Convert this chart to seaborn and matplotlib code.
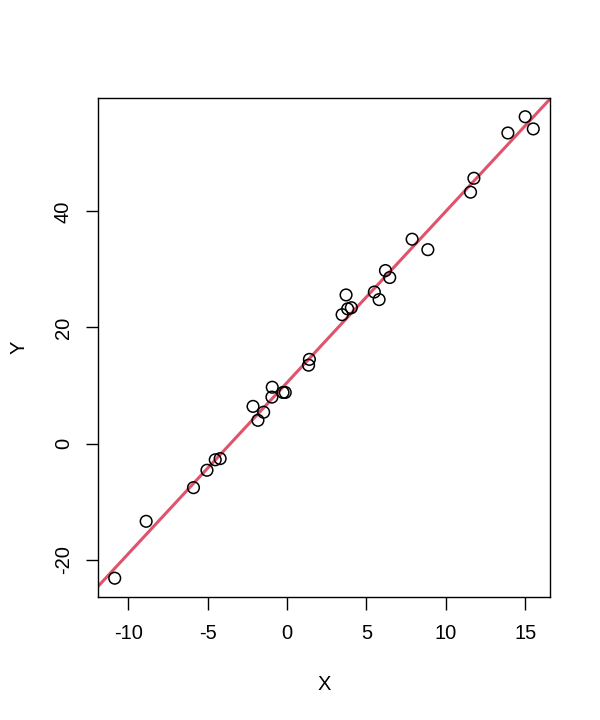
#!/usr/bin/python3
"""Scatter of Y against X with a fitted straight line (base-R look)."""

# %% Import dependencies ----
import matplotlib
matplotlib.use("Agg")
import matplotlib.pyplot as plt
import seaborn as sns
import pandas as pd

# %% Data ----
x_vals = [15.0, 15.51, 13.91, 11.77, 11.56, 7.88, 8.87, 6.20, 6.47, 5.50,
          5.80, 3.72, 3.82, 4.05, 3.47, 1.41, 1.36, -0.93, -0.95, -0.25,
          -0.11, -2.14, -1.47, -1.83, -4.52, -4.21, -5.04, -5.89, -8.87, -10.85]
y_vals = [56.3, 54.2, 53.5, 45.7, 43.3, 35.2, 33.4, 29.8, 28.6, 26.1,
          24.8, 25.6, 23.2, 23.4, 22.2, 14.5, 13.5, 9.7, 8.0, 8.8,
          8.8, 6.4, 5.4, 4.0, -2.8, -2.6, -4.6, -7.6, -13.4, -23.2]
line_intercept = 10.5
line_slope = 2.95

x_ticks = [-10, -5, 0, 5, 10, 15]
y_ticks = [-20, 0, 20, 40]

df = pd.DataFrame({"X": x_vals, "Y": y_vals})

# %% Style ----
sns.set_style("white")
plt.rcParams["font.family"] = ["Liberation Sans", "DejaVu Sans"]
plt.rcParams["font.size"] = 14

fig = plt.figure(figsize=(6, 7.2), dpi=100)
ax = fig.add_axes([0.1633, 0.1713, 0.7534, 0.6922])

# %% Plot ----
sns.scatterplot(data=df, x="X", y="Y", ax=ax, marker="o", s=70,
                facecolors="none", edgecolor="black", linewidth=1.1,
                zorder=3)
ax.axline((0, line_intercept), slope=line_slope, color="#DF536B",
          linewidth=2.2, zorder=2)

# R-style 4% padding
xr = max(x_vals) - min(x_vals)
yr = max(y_vals) - min(y_vals)
ax.set_xlim(min(x_vals) - 0.04 * xr, max(x_vals) + 0.04 * xr)
ax.set_ylim(min(y_vals) - 0.04 * yr, max(y_vals) + 0.04 * yr)

ax.set_xticks(x_ticks)
ax.set_yticks(y_ticks)
ax.set_xticklabels([str(t) for t in x_ticks])
ax.set_yticklabels([str(t) for t in y_ticks], rotation=90, va="center")
ax.tick_params(axis="both", direction="out", length=9, width=1.0,
               color="black", labelsize=14.5, pad=11, labelcolor="black",
               bottom=True, left=True)
ax.tick_params(axis="y", pad=9)

for spine in ax.spines.values():
    spine.set_visible(True)
    spine.set_color("black")
    spine.set_linewidth(1.0)

ax.set_xlabel("X", fontsize=14.5, labelpad=23, color="black")
ax.set_ylabel("Y", fontsize=14.5, labelpad=18, color="black")
ax.grid(False)

fig.savefig("out.png", dpi=100, facecolor="white")
